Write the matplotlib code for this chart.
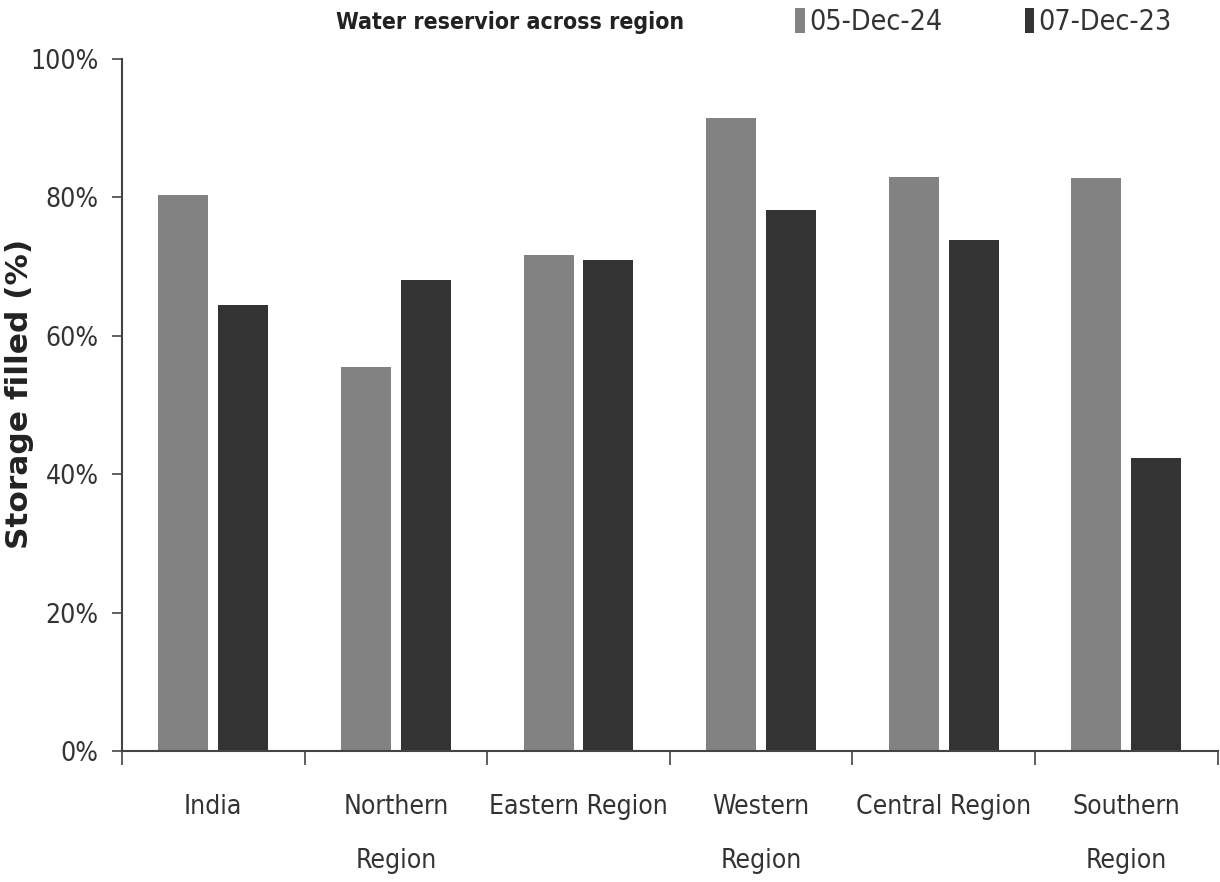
import numpy as np
import matplotlib.pyplot as plt
from matplotlib.ticker import FixedLocator, PercentFormatter

regiones = ['India', 'Northern\nRegion', 'Eastern Region', 'Western\nRegion',
            'Central Region', 'Southern\nRegion']
dic_24 = [80.3, 55.5, 71.7, 91.5, 82.9, 82.8]
dic_23 = [64.4, 68.1, 71.0, 78.2, 73.8, 42.3]

plt.rcParams['font.family'] = ['DejaVu Sans']
plt.rcParams['font.stretch'] = 'condensed'

fig = plt.figure(figsize=(12.2, 8.82), dpi=100)
ax = fig.add_axes([0.1, 0.1485, 0.898, 0.7845])

x = np.arange(len(regiones))
ancho = 0.274
b1 = ax.bar(x - 0.164, dic_24, ancho, color='#828282', label='05-Dec-24')
b2 = ax.bar(x + 0.164, dic_23, ancho, color='#333333', label='07-Dec-23')

ax.set_xlim(-0.5, len(regiones) - 0.5)
ax.set_ylim(0, 100)
ax.yaxis.set_major_locator(FixedLocator([0, 20, 40, 60, 80, 100]))
ax.yaxis.set_major_formatter(PercentFormatter(decimals=0))
ax.set_xticks(x)
ax.set_xticklabels(regiones, fontsize=19, color='#333333', linespacing=2.4)
ax.set_xticks(np.arange(len(regiones) + 1) - 0.5, minor=True)
ax.tick_params(axis='x', which='major', length=0, pad=31)
ax.tick_params(axis='x', which='minor', length=10, width=1.2, color='#444444', direction='out')
ax.tick_params(axis='y', length=7, width=1.2, color='#444444', labelsize=19,
               labelcolor='#333333', pad=10)

for s in ['top', 'right']:
    ax.spines[s].set_visible(False)
for s in ['left', 'bottom']:
    ax.spines[s].set_color('#444444')
    ax.spines[s].set_linewidth(1.5)

fig.text(0.016, 0.553, 'Storage filled (%)', fontsize=22.5, fontweight='bold',
         fontstretch='normal', color='#222222', rotation=90, ha='center', va='center')

fig.text(0.418, 0.975, 'Water reservior across region', fontsize=16.6, fontweight='bold',
         ha='center', va='center', color='#222222')
fig.legend(handles=[b1, b2], loc='center', bbox_to_anchor=(0.806, 0.975), ncol=2,
           frameon=False, fontsize=20.5, handlelength=0.33, handleheight=1.0,
           handletextpad=0.15, columnspacing=2.9, labelcolor='#333333')

plt.savefig('out.png', dpi=100)
